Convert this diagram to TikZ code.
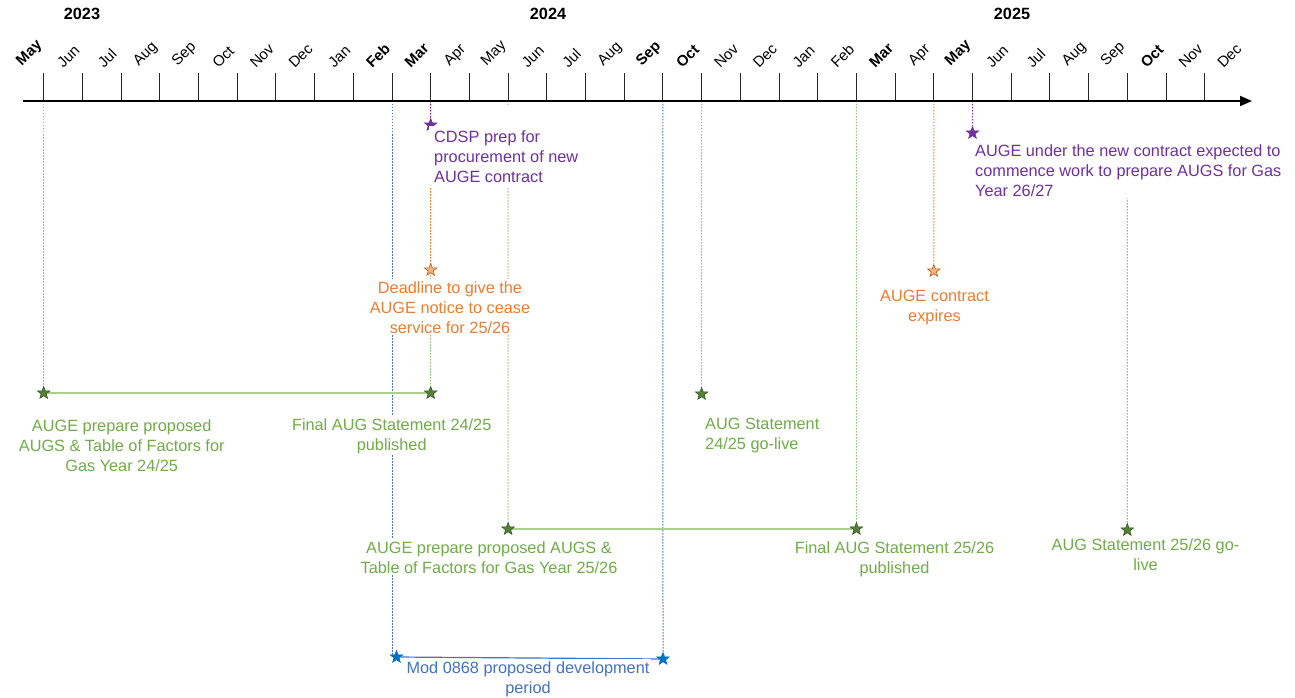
\documentclass[tikz,border=0pt]{standalone}
\usepackage{fontspec}
\usepackage{graphicx}
\setmainfont{Liberation Sans}
\usetikzlibrary{arrows.meta,shapes.geometric,backgrounds}

\definecolor{augGreen}{HTML}{70AD47}
\definecolor{augLightGreen}{HTML}{A9D18E}
\definecolor{augDarkGreen}{HTML}{548235}
\definecolor{augDeepGreen}{HTML}{375623}
\definecolor{augPurple}{HTML}{7030A0}
\definecolor{augOrange}{HTML}{ED7D31}
\definecolor{augLightOrange}{HTML}{F4B183}
\definecolor{augDeepOrange}{HTML}{C55A11}
\definecolor{augBlue}{HTML}{4472C4}
\definecolor{augDarkBlue}{HTML}{0070C0}

\newcommand{\lblsize}{\fontsize{16.3pt}{20pt}\selectfont}
\newcommand{\monsize}{\fontsize{15pt}{18pt}\selectfont}

\tikzset{
  evstar/.style={star, star points=5, star point ratio=2.4, minimum size=13pt, inner sep=0pt, line width=0.6pt},
  greenstar/.style={evstar, fill=augDarkGreen, draw=augDeepGreen},
  purplestar/.style={evstar, fill=augPurple, draw=augPurple},
  orangestar/.style={evstar, fill=augLightOrange, draw=augDeepOrange},
  bluestar/.style={evstar, fill=augDarkBlue, draw=augDarkBlue},
  evtext/.style={font=\lblsize, fill=white, inner sep=2pt, align=center},
  guide/.style={line width=1pt, dash pattern=on 1.5pt off 1.5pt},
  spanline/.style={line width=1.2pt},
  tickline/.style={line width=1pt, black!85},
}

\begin{document}
\begin{tikzpicture}[x=1pt,y=-1pt]
  \useasboundingbox (0,0) rectangle (1295,698);

  % Years
  \node[font=\lblsize\bfseries] (y2023) at (82,14) {2023};
  \node[font=\lblsize\bfseries] (y2024) at (548,14) {2024};
  \node[font=\lblsize\bfseries] (y2025) at (1012,14) {2025};

  % Month ticks and labels
  \foreach \mon [count=\i from 0] in {\textbf{May},Jun,Jul,Aug,Sep,Oct,Nov,Dec,Jan,\textbf{Feb},\textbf{Mar},Apr,May,Jun,Jul,Aug,\textbf{Sep},\textbf{Oct},Nov,Dec,Jan,Feb,\textbf{Mar},Apr,\textbf{May},Jun,Jul,Aug,Sep,\textbf{Oct},Nov,Dec}{
    \coordinate (m\i) at ({43.7+38.7*\i},101);
    \node[font=\monsize, inner sep=0pt, anchor=south] (lab\i) at ({29.7+38.7*\i},69) {\rotatebox{45}{\mon}};
  }
  \foreach \i in {0,...,30} \draw[tickline] (m\i) -- ++(0,-28);

  % Axis
  \coordinate (axisstart) at (23,101);
  \coordinate (axisend) at (1252,101);
  \draw[line width=1.8pt, -{Triangle[length=12pt,width=10pt]}] (axisstart) -- (axisend);

  % Milestones
  \node[greenstar] (sAugsA) at (43.7,393) {};
  \node[greenstar] (sFinalA) at (430.7,393) {};
  \node[purplestar] (sCdsp) at (430.7,125) {};
  \node[orangestar] (sDeadline) at (430.7,270) {};
  \node[greenstar] (sLiveA) at (701.6,394) {};
  \node[greenstar] (sAugsB) at (508.1,529) {};
  \node[greenstar] (sFinalB) at (856.4,529) {};
  \node[greenstar] (sLiveB) at (1127.3,530) {};
  \node[orangestar] (sExpire) at (933.8,271) {};
  \node[purplestar] (sNewCon) at (972.5,133) {};
  \node[bluestar] (sModA) at (396.5,657) {};
  \node[bluestar] (sModB) at (663,659) {};

  % Labels
  \node[evtext, text=augGreen, anchor=north] (tAugsA) at (121.7,417) {AUGE prepare proposed\\AUGS \& Table of Factors for\\Gas Year 24/25};
  \node[evtext, text=augGreen, anchor=north] (tFinalA) at (391.7,416) {Final AUG Statement 24/25\\published};
  \node[evtext, text=augGreen, anchor=north west, align=left] (tLiveA) at (703,416) {AUG Statement\\24/25 go-live};
  \node[evtext, text=augPurple, anchor=north west, align=left, inner xsep=5pt, inner ysep=5pt] (tCdsp) at (429,126) {CDSP prep for\\procurement of new\\AUGE contract};
  \node[evtext, text=augOrange, anchor=north] (tDeadline) at (450,279) {Deadline to give the\\AUGE notice to cease\\service for 25/26};
  \node[evtext, text=augOrange, anchor=north] (tExpire) at (934.5,288) {AUGE contract\\expires};
  \node[evtext, text=augPurple, anchor=north west, align=left] (tNewCon) at (973,142) {AUGE under the new contract expected to\\commence work to prepare AUGS for Gas\\Year 26/27};
  \node[evtext, text=augGreen, anchor=north] (tAugsB) at (489,539) {AUGE prepare proposed AUGS \&\\Table of Factors for Gas Year 25/26};
  \node[evtext, text=augGreen, anchor=north] (tFinalB) at (894.5,539) {Final AUG Statement 25/26\\published};
  \node[evtext, text=augGreen, anchor=north] (tLiveB) at (1145.5,536) {AUG Statement 25/26 go-\\live};
  \node[evtext, text=augBlue, anchor=north] (tMod) at (528,659) {Mod 0868 proposed development\\period};

  % Guide lines and spans behind the labels
  \begin{scope}[on background layer]
    \draw[guide, augGreen!75] (m0) -- (sAugsA);
    \draw[guide, augGreen!75] (m10) -- (sFinalA);
    \draw[guide, augOrange] (m10) -- (sDeadline);
    \draw[guide, augPurple] (m10) -- (sCdsp);
    \draw[guide, augGreen!75] (m17) -- (sLiveA);
    \draw[guide, augGreen!75] (m12) -- (sAugsB);
    \draw[guide, augGreen!75] (m21) -- (sFinalB);
    \draw[guide, augGreen!75] (m28) -- (sLiveB);
    \draw[guide, augOrange] (m23) -- (sExpire);
    \draw[guide, augPurple] (m24) -- (sNewCon);
    \draw[guide, augBlue] (m9) -- (m9 |- sModA);
    \draw[guide, augBlue] (m16) -- (sModB);
    \draw[spanline, augLightGreen] (sAugsA) -- (sFinalA);
    \draw[spanline, augLightGreen] (sAugsB) -- (sFinalB);
    \draw[spanline, augBlue] (sModA) -- (sModB);
    % text boxes reach up to the axis
    \fill[white] (434,105) rectangle (tCdsp.north east);
    \fill[white] (977,104) rectangle (tNewCon.north east);
  \end{scope}
\end{tikzpicture}
\end{document}
